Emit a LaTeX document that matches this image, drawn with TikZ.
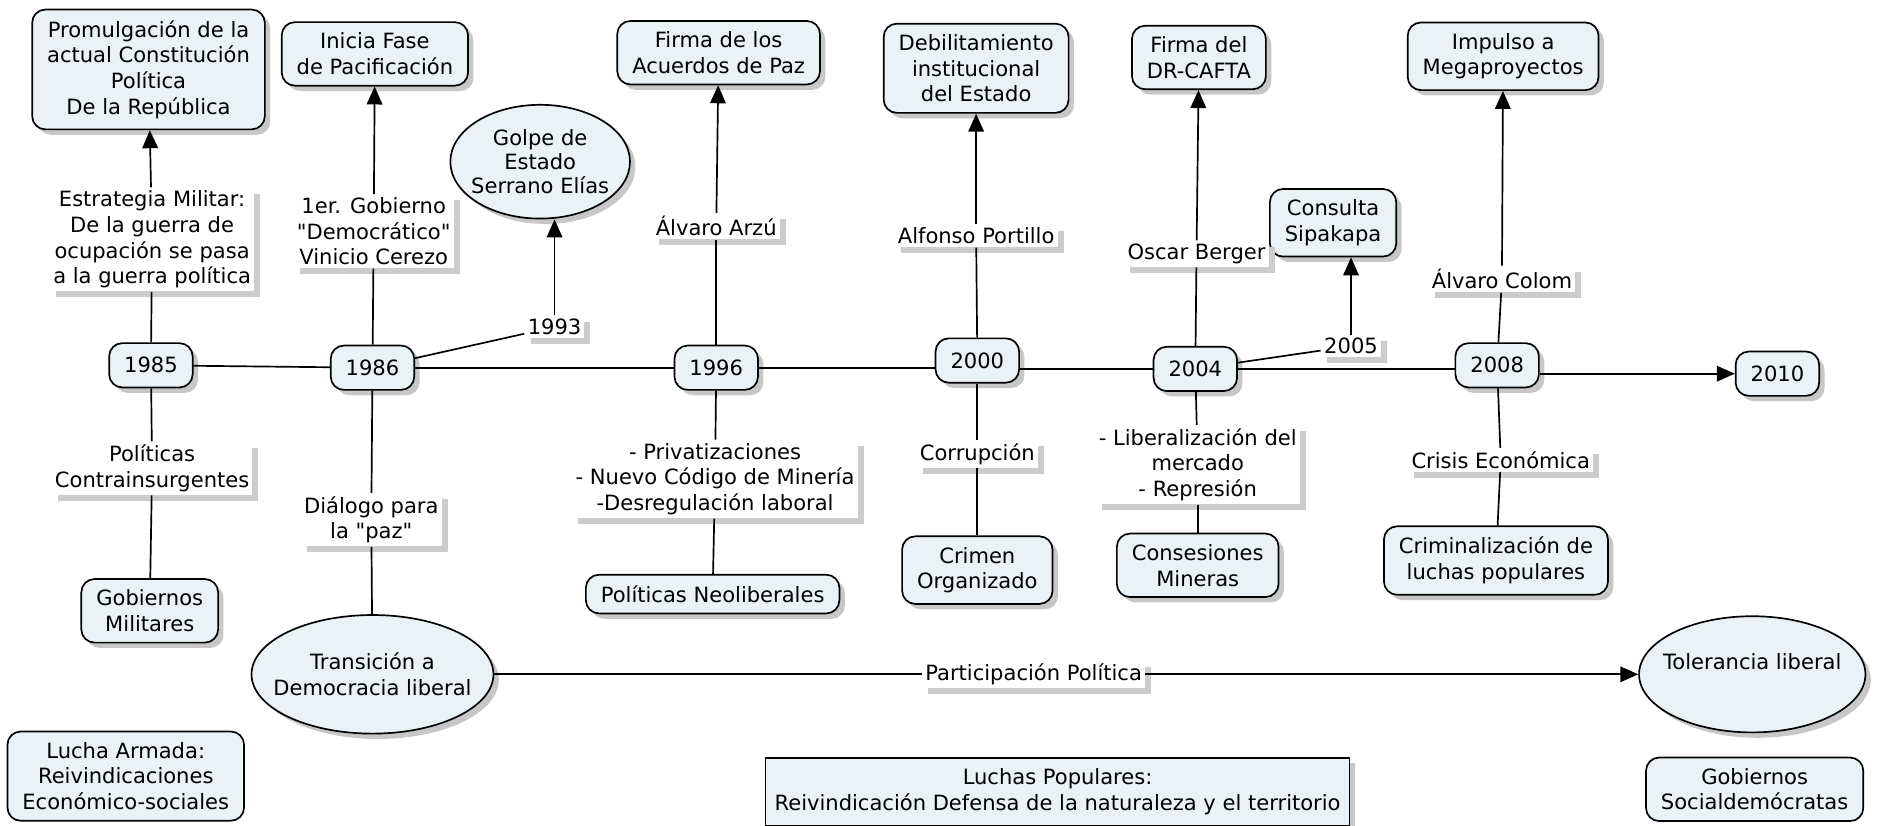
\documentclass[tikz,border=0pt]{standalone}
\usepackage{fontspec}
\setmainfont{DejaVu Sans}[Ligatures=TeXOff]
\usepackage{tikz}
\usetikzlibrary{arrows.meta}
\usetikzlibrary{shapes}
\usetikzlibrary{shadows}

\definecolor{conceptfill}{RGB}{234,242,246}
\tikzset{
  conceptbox/.style={draw, line width=0.8pt, rounded corners=2.2mm, fill=conceptfill, align=center,
    inner xsep=2.5mm, inner ysep=1.8mm,
    drop shadow={shadow xshift=0.9mm, shadow yshift=-0.9mm, fill=black!22, opacity=1}},
  flatbox/.style={draw, line width=0.8pt, rounded corners=2.2mm, fill=conceptfill, align=center,
    inner xsep=2.5mm, inner ysep=1.8mm},
  yearbox/.style={conceptbox, minimum width=13.4mm, minimum height=7.4mm},
  conceptoval/.style={ellipse, draw, line width=0.8pt, fill=conceptfill, align=center, inner sep=-6mm,
    drop shadow={shadow xshift=0.9mm, shadow yshift=-0.9mm, fill=black!22, opacity=1}},
  phrase/.style={fill=white, align=center, inner sep=1.5pt,
    drop shadow={shadow xshift=1mm, shadow yshift=-1mm, fill=black!20, opacity=1}},
  conn/.style={line width=0.8pt},
  connarrow/.style={conn, -{Triangle[length=3mm,width=2.6mm]}},
}

\begin{document}
\begin{tikzpicture}[x=0.2mm, y=-0.2mm, every node/.style={font=\fontsize{10}{12.2}\selectfont}]
		\useasboundingbox (0,0) rectangle (1568,689);

		\node[conceptbox] (prom) at (124,58) {Promulgación de la\\actual Constitución\\Política\\De la República};
		\node[conceptbox] (inicia) at (313,45) {Inicia Fase\\de Pacificación};
		\node[conceptoval, minimum width=30mm, minimum height=19mm, font=\fontsize{10}{11.6}\selectfont] (golpe) at (451,135) {Golpe de\\Estado\\Serrano Elías};
		\node[conceptbox] (paz) at (600,44) {Firma de los\\Acuerdos de Paz};
		\node[conceptbox] (debil) at (815,57) {Debilitamiento\\institucional\\del Estado};
		\node[conceptbox] (cafta) at (1001,48) {Firma del\\DR-CAFTA};
		\node[conceptbox] (sipakapa) at (1113,186) {Consulta\\Sipakapa};
		\node[conceptbox] (mega) at (1255,47) {Impulso a\\Megaproyectos};

		\node[phrase] (estrategia) at (127,200) {Estrategia Militar:\\De la guerra de\\ocupación se pasa\\a la guerra política};
		\node[phrase] (gobierno) at (312,193) {1er. Gobierno\\"Democrático"\\Vinicio Cerezo};
		\node[phrase] (l1993) at (463,273) {1993};
		\node[phrase] (arzu) at (598,189) {Álvaro Arzú};
		\node[phrase] (portillo) at (815,197) {Alfonso Portillo};
		\node[phrase] (berger) at (999,212) {Oscar Berger};
		\node[phrase] (l2005) at (1128,289) {2005};
		\node[phrase] (colom) at (1254,233) {Álvaro Colom};

		\node[yearbox] (y1985) at (126,305) {1985};
		\node[yearbox] (y1986) at (311,307) {1986};
		\node[yearbox] (y1996) at (598,307) {1996};
		\node[yearbox] (y2000) at (816,301) {2000};
		\node[yearbox] (y2004) at (998,308) {2004};
		\node[yearbox] (y2008) at (1250,305) {2008};
		\node[yearbox] (y2010) at (1484,312) {2010};

		\node[phrase] (contra) at (127,391) {Políticas\\Contrainsurgentes};
		\node[phrase] (dialogo) at (310,434) {Diálogo para\\la "paz"};
		\node[phrase] (privat) at (597,400) {- Privatizaciones\\- Nuevo Código de Minería\\-Desregulación laboral};
		\node[phrase] (corrup) at (816,379) {Corrupción};
		\node[phrase] (liberal) at (1000,388) {- Liberalización del\\mercado\\- Represión};
		\node[phrase] (crisis) at (1253,384) {Crisis Económica};

		\node[conceptbox] (militares) at (125,510) {Gobiernos\\Militares};
		\node[conceptoval, minimum width=40.4mm, minimum height=19.8mm] (transicion) at (311,563) {Transición a\\Democracia liberal};
		\node[conceptbox] (neolib) at (595,496) {Políticas Neoliberales};
		\node[conceptbox] (crimen) at (816,476) {Crimen\\Organizado};
		\node[conceptbox] (mineras) at (1000,472) {Consesiones\\Mineras};
		\node[conceptbox] (crimin) at (1249,468) {Criminalización de\\luchas populares};

		\node[phrase] (particip) at (863,563) {Participación Política};
		\node[conceptoval, minimum width=37.8mm, minimum height=19.4mm] (tolerancia) at (1463,563) {Tolerancia liberal\\\mbox{}};

		\node[flatbox] (armada) at (105,648) {Lucha Armada:\\Reivindicaciones\\Económico-sociales};
		\node[conceptbox, sharp corners, inner xsep=1.5mm, minimum width=96.6mm] (populares) at (883,661) {Luchas Populares:\\Reivindicación Defensa de la naturaleza y el territorio};
		\node[flatbox] (socialdem) at (1465,659) {Gobiernos\\Socialdemócratas};

		\draw[conn] (y1985) -- (y1986);
		\draw[conn] (y1986) -- (y1996);
		\draw[conn] (y1996) -- (y1996 -| y2000.west);
		\draw[conn] (y2000.east |- y2004) -- (y2004);
		\draw[conn] (y2004) -- (y2004 -| y2008.west);
		\draw[connarrow] (y2008.east |- y2010) -- (y2010);

		\draw[conn] (y1985) -- (estrategia);
		\draw[connarrow] (estrategia) -- (prom);
		\draw[conn] (y1986) -- (gobierno);
		\draw[connarrow] (gobierno) -- (inicia);
		\draw[conn] (y1986) -- (l1993);
		\draw[connarrow] (l1993) -- (l1993 |- golpe.south);
		\draw[conn] (y1996) -- (arzu);
		\draw[connarrow] (arzu) -- (paz);
		\draw[conn] (y2000) -- (portillo);
		\draw[connarrow] (portillo) -- (debil);
		\draw[conn] (y2004) -- (berger);
		\draw[connarrow] (berger) -- (cafta);
		\draw[conn] (y2004) -- (l2005);
		\draw[connarrow] (l2005) -- (l2005 |- sipakapa.south);
		\draw[conn] (y2008) -- (colom);
		\draw[connarrow] (colom) -- (mega);

		\draw[conn] (y1985) -- (contra);
		\draw[conn] (contra) -- (militares);
		\draw[conn] (y1986) -- (dialogo);
		\draw[conn] (dialogo) -- (transicion);
		\draw[conn] (y1996) -- (privat);
		\draw[conn] (privat) -- (neolib);
		\draw[conn] (y2000) -- (corrup);
		\draw[conn] (corrup) -- (crimen);
		\draw[conn] (y2004) -- (liberal);
		\draw[conn] (liberal) -- (mineras);
		\draw[conn] (y2008) -- (crisis);
		\draw[conn] (crisis) -- (crimin);

		\draw[conn] (transicion) -- (particip);
		\draw[connarrow] (particip) -- (tolerancia);
\end{tikzpicture}
\end{document}
